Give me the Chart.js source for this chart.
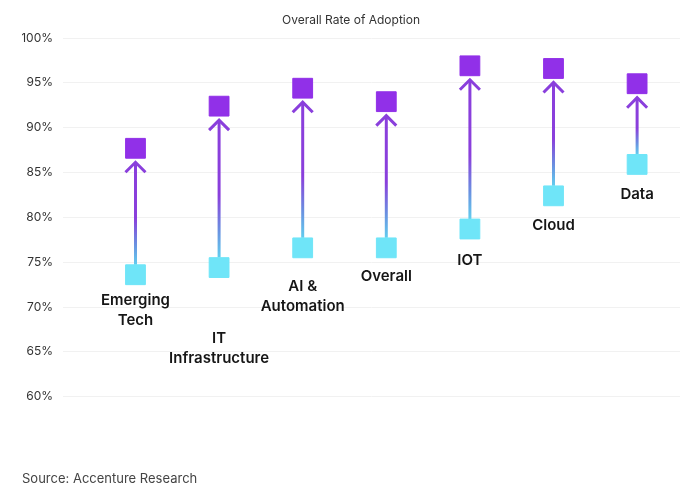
<!DOCTYPE html>
<html>
<head>
<meta charset="utf-8">
<script src="https://cdn.jsdelivr.net/npm/chart.js@4"></script>
<style>
  html, body { margin: 0; padding: 0; background: #fff; }
  #wrap { width: 680px; height: 504px; }
</style>
</head>
<body>
<div id="wrap"><canvas id="chart" width="680" height="504"></canvas></div>
<script>
const categories = [
  ["Emerging", "Tech"],
  ["IT", "Infrastructure"],
  ["AI &", "Automation"],
  ["Overall"],
  ["IOT"],
  ["Cloud"],
  ["Data"]
];
const lowRate = [73.6, 74.4, 76.6, 76.6, 78.7, 82.4, 85.9];
const highRate = [87.7, 92.4, 94.4, 92.9, 96.9, 96.6, 94.9];
const yTicks = [60, 65, 70, 75, 80, 85, 90, 95, 100];

const PURPLE = "#9130e8";
const CYAN = "#6fe5f8";

// how far below the lower square each category label starts
const labelGap = [26, 71, 39, 29, 31, 30, 30];

const arrows = {
  id: "arrows",
  beforeDatasetsDraw(chart) {
    const { ctx, scales: { x, y } } = chart;
    ctx.save();
    lowRate.forEach((lo, i) => {
      const px = x.getPixelForValue(i);
      const y0 = y.getPixelForValue(lo) - 10;
      const y1 = y.getPixelForValue(highRate[i]) + 13;
      const g = ctx.createLinearGradient(0, y0, 0, y1);
      g.addColorStop(0, "#62cdee");
      g.addColorStop(0.2, "#6a8fe0");
      g.addColorStop(0.45, "#8a3fdc");
      g.addColorStop(1, "#8a3fdc");
      ctx.strokeStyle = g;
      ctx.lineWidth = 3;
      ctx.lineCap = "butt";
      ctx.beginPath();
      ctx.moveTo(px, y0);
      ctx.lineTo(px, y1 + 1);
      ctx.stroke();
      ctx.strokeStyle = "#8a3fdc";
      ctx.lineJoin = "miter";
      ctx.beginPath();
      ctx.moveTo(px - 10, y1 + 11);
      ctx.lineTo(px, y1 + 1);
      ctx.lineTo(px + 10, y1 + 11);
      ctx.stroke();
    });
    ctx.restore();
  },
  afterDatasetsDraw(chart) {
    const { ctx, scales: { x, y } } = chart;
    ctx.save();
    ctx.font = "600 15px Inter, 'Noto Sans', sans-serif";
    ctx.fillStyle = "#161616";
    ctx.textAlign = "center";
    ctx.textBaseline = "middle";
    categories.forEach((lines, i) => {
      const px = x.getPixelForValue(i);
      const py = y.getPixelForValue(lowRate[i]) + labelGap[i];
      lines.forEach((t, j) => ctx.fillText(t, px, py + j * 19.7));
    });
    ctx.restore();
  }
};

new Chart(document.getElementById("chart"), {
  type: "scatter",
  data: {
    datasets: [
      {
        label: "Before",
        data: lowRate.map((v, i) => ({ x: i, y: v })),
        pointStyle: "rect",
        pointRadius: 14,
        backgroundColor: CYAN,
        borderColor: CYAN,
        borderWidth: 1
      },
      {
        label: "After",
        data: highRate.map((v, i) => ({ x: i, y: v })),
        pointStyle: "rect",
        pointRadius: 14,
        backgroundColor: PURPLE,
        borderColor: PURPLE,
        borderWidth: 1
      }
    ]
  },
  options: {
    responsive: false,
    animation: false,
    layout: { autoPadding: false, padding: { left: 22, right: 0, top: 0, bottom: 0 } },
    plugins: {
      legend: { display: false },
      tooltip: { enabled: false },
      title: {
        display: true,
        text: "Overall Rate of Adoption",
        color: "#333",
        font: { family: "Inter, 'Noto Sans', sans-serif", size: 12, weight: "normal", lineHeight: 1.2 },
        padding: { top: 13, bottom: 10.6 }
      },
      subtitle: {
        display: true,
        position: "bottom",
        align: "start",
        text: "Source: Accenture Research",
        color: "#444",
        font: { family: "Inter, 'Noto Sans', sans-serif", size: 13, weight: "normal", lineHeight: 1.2 },
        padding: { top: 74.5, bottom: 17.2 }
      }
    },
    scales: {
      x: {
        type: "linear",
        display: false,
        min: -0.867,
        max: 6.513
      },
      y: {
        min: yTicks[0],
        max: yTicks[yTicks.length - 1],
        afterFit(scale) { scale.width = 41; },
        afterBuildTicks(scale) { scale.ticks = yTicks.map(v => ({ value: v })); },
        border: { display: false },
        grid: { color: "#f1f1f1", lineWidth: 1, drawTicks: false },
        ticks: {
          padding: 10,
          color: "#333",
          font: { family: "Inter, 'Noto Sans', sans-serif", size: 12 },
          callback: v => v + "%"
        }
      }
    }
  },
  plugins: [arrows]
});
</script>
</body>
</html>
